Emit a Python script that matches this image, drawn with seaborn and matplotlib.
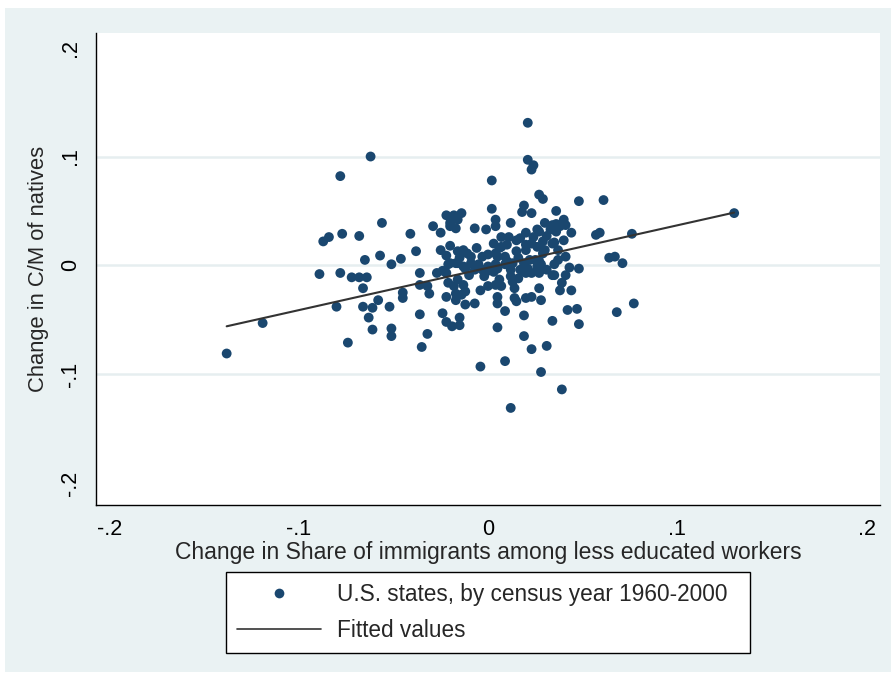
import numpy as np
import pandas as pd
import seaborn as sns
import matplotlib
matplotlib.use("Agg")
import matplotlib.pyplot as plt
from matplotlib import font_manager
from matplotlib.lines import Line2D
from matplotlib.patches import Rectangle

# Change in share of immigrants among less educated workers (x) and
# change in C/M of natives (y), one pair per state and census year.
share_change = [
    -0.138, -0.119, -0.089, -0.087, -0.084, -0.078, -0.077, -0.078, -0.080, -0.074,
    -0.072, -0.068, -0.068, -0.065, -0.064, -0.066, -0.066, -0.063, -0.062, -0.056,
    -0.057, -0.041, -0.038, -0.046, -0.051, -0.061, -0.058, -0.052, -0.061, -0.051,
    -0.051, -0.045, -0.045, -0.036, -0.036, -0.032, -0.031, -0.036, -0.032, -0.035,
    -0.027, -0.024, -0.021, -0.022, -0.017, -0.018, -0.024, -0.022, -0.019, -0.015,
    -0.025, -0.022, -0.020, -0.017, -0.029, -0.025, -0.022, -0.018, -0.020, -0.017,
    -0.016, -0.020, -0.016, -0.014, -0.020,
    0.021, 0.021, 0.024, 0.023, 0.002, 0.027, 0.029, 0.002, 0.019, 0.018,
    0.023, 0.004, 0.004, 0.012, -0.007, -0.001, 0.026, 0.007, 0.011, 0.020,
    0.015, 0.031, 0.034, 0.036, 0.029, 0.034, 0.023, 0.026, 0.007, -0.006,
    -0.013, -0.011, -0.009, -0.003, 0.004, 0.009, 0.015, 0.020, 0.030, -0.015,
    -0.016, -0.012, -0.009, 0.000, 0.013, 0.009, 0.004, 0.000, -0.003, 0.019,
    0.021, 0.025, 0.028, 0.031, 0.035, 0.027, 0.023, -0.010, -0.016, -0.013,
    -0.014, -0.017, -0.012, -0.007, -0.002, 0.000, -0.004, 0.004, 0.007, 0.013,
    0.014, 0.016, 0.020, 0.005, 0.005, 0.014, 0.015, 0.020, 0.023, 0.028,
    0.034, 0.009, 0.019, -0.015, 0.005, 0.019, 0.034, 0.023, 0.031, -0.004,
    0.009, 0.028, 0.012,
    0.048, 0.061, 0.040, 0.036, 0.038, 0.041, 0.036, 0.033, 0.044, 0.057,
    0.059, 0.076, 0.035, 0.040, 0.037, 0.041, 0.037, 0.043, 0.048, 0.064,
    0.067, 0.071, 0.035, 0.041, 0.039, 0.038, 0.044, 0.042, 0.047, 0.048,
    0.068, 0.077, 0.039, 0.030, 0.027, 0.024, 0.017, 0.003, 0.006, 0.010,
    0.020, 0.029, 0.016, 0.022, 0.005, 0.010, 0.027, 0.003, 0.012, 0.019,
    -0.021, -0.013, -0.005, -0.022, -0.007, -0.001, 0.005, -0.012, 0.006, 0.012,
    0.017, 0.026, 0.027, 0.130,
]
cm_change = [
    -0.081, -0.053, -0.008, 0.022, 0.026, 0.082, 0.029, -0.007, -0.038, -0.071,
    -0.011, -0.011, 0.027, 0.005, -0.011, -0.021, -0.038, -0.048, 0.100, 0.039,
    0.009, 0.029, 0.013, 0.006, 0.001, -0.039, -0.032, -0.038, -0.059, -0.058,
    -0.065, -0.025, -0.030, -0.007, -0.018, -0.019, -0.026, -0.045, -0.063, -0.075,
    -0.007, -0.005, -0.016, -0.029, -0.026, -0.019, -0.044, -0.052, -0.056, -0.048,
    0.014, 0.009, 0.002, 0.002, 0.036, 0.030, 0.046, 0.046, 0.036, 0.034,
    0.042, 0.018, 0.013, 0.048, 0.039,
    0.131, 0.097, 0.092, 0.088, 0.078, 0.065, 0.061, 0.052, 0.055, 0.049,
    0.048, 0.042, 0.036, 0.039, 0.034, 0.033, 0.033, 0.026, 0.026, 0.030,
    0.023, 0.027, 0.037, 0.050, 0.022, 0.020, 0.020, 0.017, 0.017, 0.016,
    0.014, 0.011, 0.008, 0.008, 0.011, 0.008, 0.013, 0.014, 0.014, 0.007,
    0.002, -0.003, 0.002, 0.010, 0.002, 0.001, 0.001, -0.001, -0.004, 0.002,
    -0.003, 0.005, 0.001, -0.004, 0.001, -0.007, -0.007, -0.009, -0.013, -0.018,
    -0.027, -0.032, -0.036, -0.035, -0.010, -0.019, -0.023, -0.018, -0.019, -0.015,
    -0.021, -0.012, -0.007, -0.029, -0.035, -0.030, -0.033, -0.030, -0.029, -0.032,
    -0.009, -0.042, -0.046, -0.055, -0.057, -0.065, -0.051, -0.077, -0.074, -0.093,
    -0.088, -0.098, -0.131,
    0.059, 0.060, 0.042, 0.038, 0.036, 0.037, 0.031, 0.033, 0.030, 0.028,
    0.030, 0.029, 0.021, 0.023, 0.014, 0.008, 0.005, -0.002, -0.003, 0.007,
    0.008, 0.002, -0.009, -0.009, -0.016, -0.023, -0.023, -0.041, -0.040, -0.054,
    -0.043, -0.035, -0.114, 0.039, 0.031, 0.026, 0.025, 0.020, 0.016, 0.019,
    0.019, 0.011, 0.007, 0.005, 0.008, 0.004, 0.004, -0.006, -0.004, -0.006,
    0.001, -0.001, 0.001, -0.007, -0.004, -0.006, -0.003, -0.024, -0.013, -0.010,
    -0.004, -0.001, -0.021, 0.048,
]

# Fitted values at the two ends of the observed x range
fit_share = [-0.138, 0.130]
fit_cm = [-0.056, 0.0485]

axis_ticks = [-0.2, -0.1, 0.0, 0.1, 0.2]
axis_tick_labels = ["-.2", "-.1", "0", ".1", ".2"]
grid_levels = [-0.1, 0.0, 0.1]

scatter_label = "U.S. states, by census year 1960-2000"
fit_label = "Fitted values"
x_title = "Change in Share of immigrants among less educated workers"
y_title = "Change in C/M of natives"

df = pd.DataFrame({"share": share_change, "cm": cm_change})
fit_df = pd.DataFrame({"share": fit_share, "fitted": fit_cm})

sns.set_style("white")
available = {f.name for f in font_manager.fontManager.ttflist}
base_font = "Liberation Sans Narrow" if "Liberation Sans Narrow" in available else "Liberation Sans"
plt.rcParams["font.family"] = [base_font, "DejaVu Sans"]

W, H = 896, 680
fig = plt.figure(figsize=(W / 100, H / 100), dpi=100)
fig.patch.set_facecolor("white")
fig.add_artist(Rectangle((5 / W, 8 / H), (W - 10) / W, (H - 16) / H,
                         transform=fig.transFigure, facecolor="#EAF2F3",
                         edgecolor="none", zorder=0))

left, top, right, bottom = 96, 33, 880, 505
ax = fig.add_axes([left / W, 1 - bottom / H, (right - left) / W, (bottom - top) / H])
ax.set_facecolor("white")

navy = "#1A476F"
for g in grid_levels:
    ax.axhline(g, color="#E6EEF0", lw=1.8, zorder=0)

sns.scatterplot(data=df, x="share", y="cm", ax=ax, color=navy, s=50,
                edgecolor="none", linewidth=0, zorder=3, legend=False)
sns.lineplot(data=fit_df, x="share", y="fitted", ax=ax, color="#333333",
             lw=1.5, zorder=4, legend=False)

ax.set_xlim(-0.207, 0.207)
ax.set_ylim(-0.2202, 0.2135)
ax.set_xticks(axis_ticks)
ax.set_xticklabels(axis_tick_labels)
ax.set_yticks(axis_ticks)
ax.set_yticklabels(axis_tick_labels, rotation=90, va="center")
ax.tick_params(axis="both", direction="out", length=7, width=1, color="black",
               labelsize=15.5, labelcolor="black", pad=4)
ax.tick_params(axis="x", pad=3)

for side in ["top", "right"]:
    ax.spines[side].set_visible(False)
for side in ["left", "bottom"]:
    ax.spines[side].set_color("black")
    ax.spines[side].set_linewidth(1.0)

ax.set_xlabel(x_title, fontsize=16.5, labelpad=1)
ax.set_ylabel(y_title, fontsize=15.8, labelpad=8)

handles = [
    Line2D([], [], marker="o", linestyle="none", markersize=7, color=navy,
           markeredgewidth=0),
    Line2D([], [], color="#333333", lw=1.2),
]
leg = fig.legend(handles, [scatter_label, fit_label],
                 loc="center left",
                 bbox_to_anchor=(226 / W, 1 - 652 / H, (750 - 226) / W, (652 - 573) / H),
                 mode="expand", fontsize=16.3, frameon=True, fancybox=False,
                 handlelength=3.7, handletextpad=0.7, labelspacing=0.55,
                 borderpad=0.5, borderaxespad=0)
frame = leg.get_frame()
frame.set_edgecolor("black")
frame.set_linewidth(1.0)
frame.set_facecolor("white")
frame.set_alpha(1)

fig.savefig("out.png", dpi=100)
